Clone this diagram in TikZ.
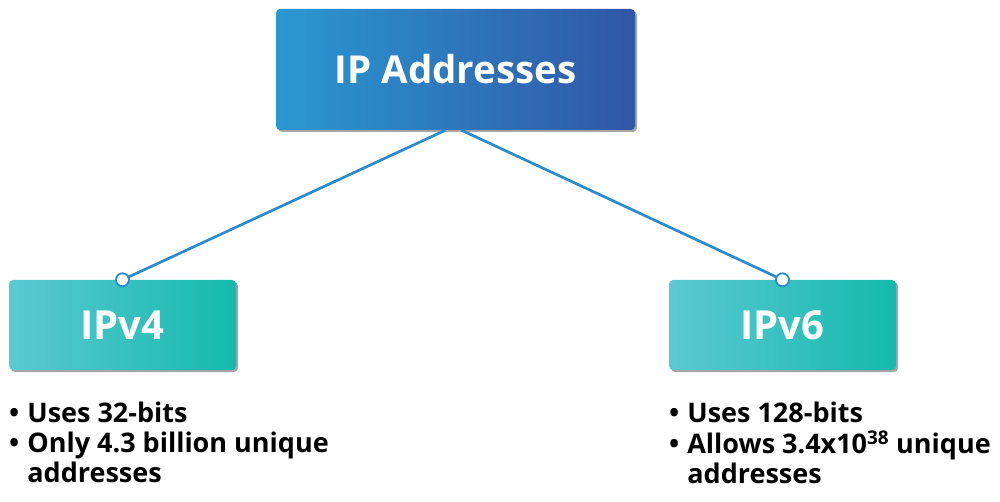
\documentclass[tikz,border=0pt]{standalone}
\usepackage{fontspec}
\setmainfont{Open Sans}
\usetikzlibrary{shadows}
\definecolor{TopLeftColor}{RGB}{42,152,209}
\definecolor{TopMidColor}{RGB}{36,120,189}
\definecolor{TopRightColor}{RGB}{49,86,166}
\definecolor{LeafLeftColor}{RGB}{92,200,210}
\definecolor{LeafRightColor}{RGB}{20,186,172}
\definecolor{LinkColor}{RGB}{42,140,205}
\tikzstyle{ip-box-base}=[rectangle,
                           rounded corners=4pt,
                           text centered,
                           text=white,
                           font=\fontsize{40}{44}\selectfont\bfseries,
                           drop shadow={shadow xshift=2pt, shadow yshift=-2pt,
                                        fill=black, opacity=0.35},
                          ]
\tikzstyle{ip-root}=[ip-box-base,
                       left color=TopLeftColor,
                       middle color=TopMidColor,
                       right color=TopRightColor,
                       font=\fontsize{38.5}{42}\selectfont\bfseries,
                       minimum width=359pt,
                       minimum height=121pt]
\tikzstyle{ip-leaf}=[ip-box-base,
                       left color=LeafLeftColor,
                       right color=LeafRightColor,
                       minimum width=227pt,
                       minimum height=90pt]
\tikzstyle{ip-dot}=[circle, draw=LinkColor, line width=1.8pt, fill=white,
                      inner sep=0pt, minimum size=13pt]
\tikzstyle{ip-notes}=[anchor=north west, inner sep=0pt, align=left,
                        font=\fontsize{27}{30}\selectfont\bfseries]

\begin{document}
\begin{tikzpicture}[x=1pt, y=-1pt]
    \useasboundingbox (0,0) rectangle (1000,502);

    % Boxes
    % --------------------------------------------------------------------------
    \node at (455.5,  69.5) (ipaddr) [ip-root] {IP Addresses};
    \node at (122.5, 325.0) (ipv4)   [ip-leaf] {IPv4};
    \node at (782.5, 325.0) (ipv6)   [ip-leaf] {IPv6};

    % Links
    % --------------------------------------------------------------------------
    \draw[LinkColor, line width=2.7pt] ([xshift=-10pt]ipaddr.south) -- (ipv4.north);
    \draw[LinkColor, line width=2.7pt] ([xshift=6pt]ipaddr.south)   -- (ipv6.north);
    \node at (ipv4.north) (dot_ipv4) [ip-dot] {};
    \node at (ipv6.north) (dot_ipv6) [ip-dot] {};

    % Notes
    % --------------------------------------------------------------------------
    \node at (9, 401) (notes_ipv4) [ip-notes] {%
        \begin{tabular}{@{}l@{\hspace{8pt}}l@{}}
          • & Uses 32-bits\\
          • & Only 4.3 billion unique\\
            & addresses
        \end{tabular}};
    \node at (669, 401) (notes_ipv6) [ip-notes] {%
        \begin{tabular}{@{}l@{\hspace{8pt}}l@{}}
          • & Uses 128-bits\\
          • & Allows 3.4x10\textsuperscript{38} unique\\
            & addresses
        \end{tabular}};
\end{tikzpicture}
\end{document}
